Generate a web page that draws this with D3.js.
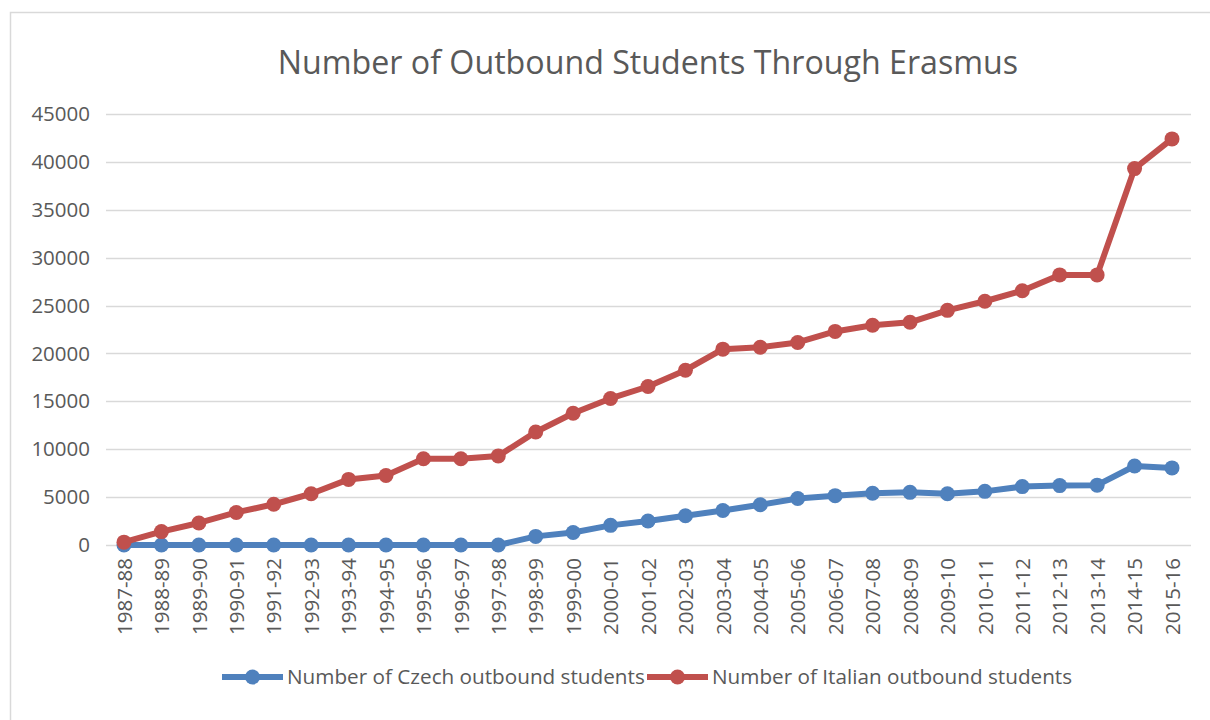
<!DOCTYPE html>
<html>
<head>
<meta charset="utf-8">
<script src="https://cdn.jsdelivr.net/npm/d3@7"></script>
<style>
  body { margin: 0; background: #fff; }
  text { font-family: "Open Sans", "Noto Sans", sans-serif; fill: #595959; }
</style>
</head>
<body>
<svg width="1210" height="720"></svg>
<script>
var years = ["1987-88","1988-89","1989-90","1990-91","1991-92","1992-93","1993-94",
  "1994-95","1995-96","1996-97","1997-98","1998-99","1999-00","2000-01","2001-02",
  "2002-03","2003-04","2004-05","2005-06","2006-07","2007-08","2008-09","2009-10",
  "2010-11","2011-12","2012-13","2013-14","2014-15","2015-16"];

var czech = [0, 0, 0, 0, 0, 0, 0, 0, 0, 0, 0, 900, 1300, 2050, 2500, 3050, 3600,
  4200, 4850, 5150, 5400, 5500, 5350, 5600, 6100, 6200, 6250, 8250, 8050];

var italian = [300, 1400, 2300, 3400, 4250, 5350, 6850, 7250, 9000, 9000, 9300,
  11800, 13750, 15300, 16550, 18250, 20450, 20650, 21150, 22300, 22950, 23250,
  24500, 25450, 26550, 28200, 28200, 39300, 42400];

var yTicks = [0, 5000, 10000, 15000, 20000, 25000, 30000, 35000, 40000, 45000];

var series = [
  {name: "Number of Czech outbound students", values: czech, color: "#4f81bd"},
  {name: "Number of Italian outbound students", values: italian, color: "#c0504d"}
];

var svg = d3.select("svg"),
    width = +svg.attr("width"),
    height = +svg.attr("height");

// chart frame
svg.append("rect")
    .attr("x", 10.5).attr("y", 12.5)
    .attr("width", 1210).attr("height", 720)
    .attr("fill", "#fff")
    .attr("stroke", "#d9d9d9")
    .attr("stroke-width", 1.5);

var x = d3.scalePoint()
    .domain(years)
    .range([124, 1172]);

var y = d3.scaleLinear()
    .domain([0, 45000])
    .range([545, 114]);

svg.append("text")
    .attr("x", 648)
    .attr("y", 74)
    .attr("text-anchor", "middle")
    .attr("font-size", 32.2)
    .text("Number of Outbound Students Through Erasmus");

// gridlines
svg.append("g")
  .selectAll("line")
  .data(yTicks)
  .enter().append("line")
    .attr("x1", 106).attr("x2", 1191)
    .attr("y1", function(d) { return Math.round(y(d)) + 0.5; })
    .attr("y2", function(d) { return Math.round(y(d)) + 0.5; })
    .attr("stroke", "#d9d9d9")
    .attr("stroke-width", 1.5);

var yAxis = svg.append("g")
    .attr("transform", "translate(100,0)")
    .call(d3.axisLeft(y).tickValues(yTicks).tickSize(0).tickPadding(10)
      .tickFormat(d3.format("d")));
yAxis.select(".domain").remove();
yAxis.selectAll("text")
    .attr("font-size", 20.5)
    .attr("font-family", null)
    .attr("fill", "#595959");

var xAxis = svg.append("g")
    .attr("transform", "translate(0,545)")
    .call(d3.axisBottom(x).tickSize(0).tickPadding(0));
xAxis.select(".domain").remove();
xAxis.selectAll("text")
    .attr("font-size", 20.5)
    .attr("font-family", null)
    .attr("fill", "#595959")
    .attr("text-anchor", "end")
    .attr("dy", "0.35em")
    .attr("transform", "translate(0,13) rotate(-90)")
    .attr("x", 0).attr("y", 0);

var line = d3.line()
    .x(function(d, i) { return x(years[i]); })
    .y(function(d) { return y(d); });

series.forEach(function(s) {
  var g = svg.append("g");
  g.append("path")
      .datum(s.values)
      .attr("d", line)
      .attr("fill", "none")
      .attr("stroke", s.color)
      .attr("stroke-width", 6)
      .attr("stroke-linejoin", "round");
  g.selectAll("circle")
    .data(s.values)
    .enter().append("circle")
      .attr("cx", function(d, i) { return x(years[i]); })
      .attr("cy", function(d) { return y(d); })
      .attr("r", 7.5)
      .attr("fill", s.color);
});

// legend
var legendX = [222, 647];
var legend = svg.append("g")
  .selectAll("g")
  .data(series)
  .enter().append("g")
    .attr("transform", function(d, i) { return "translate(" + legendX[i] + ",677)"; });
legend.append("line")
    .attr("x1", 0).attr("x2", 61)
    .attr("stroke", function(d) { return d.color; })
    .attr("stroke-width", 6);
legend.append("circle")
    .attr("cx", 30.5).attr("r", 7.5)
    .attr("fill", function(d) { return d.color; });
legend.append("text")
    .attr("x", 65)
    .attr("dy", "0.35em")
    .attr("font-size", 20.7)
    .text(function(d) { return d.name; });
</script>
</body>
</html>
